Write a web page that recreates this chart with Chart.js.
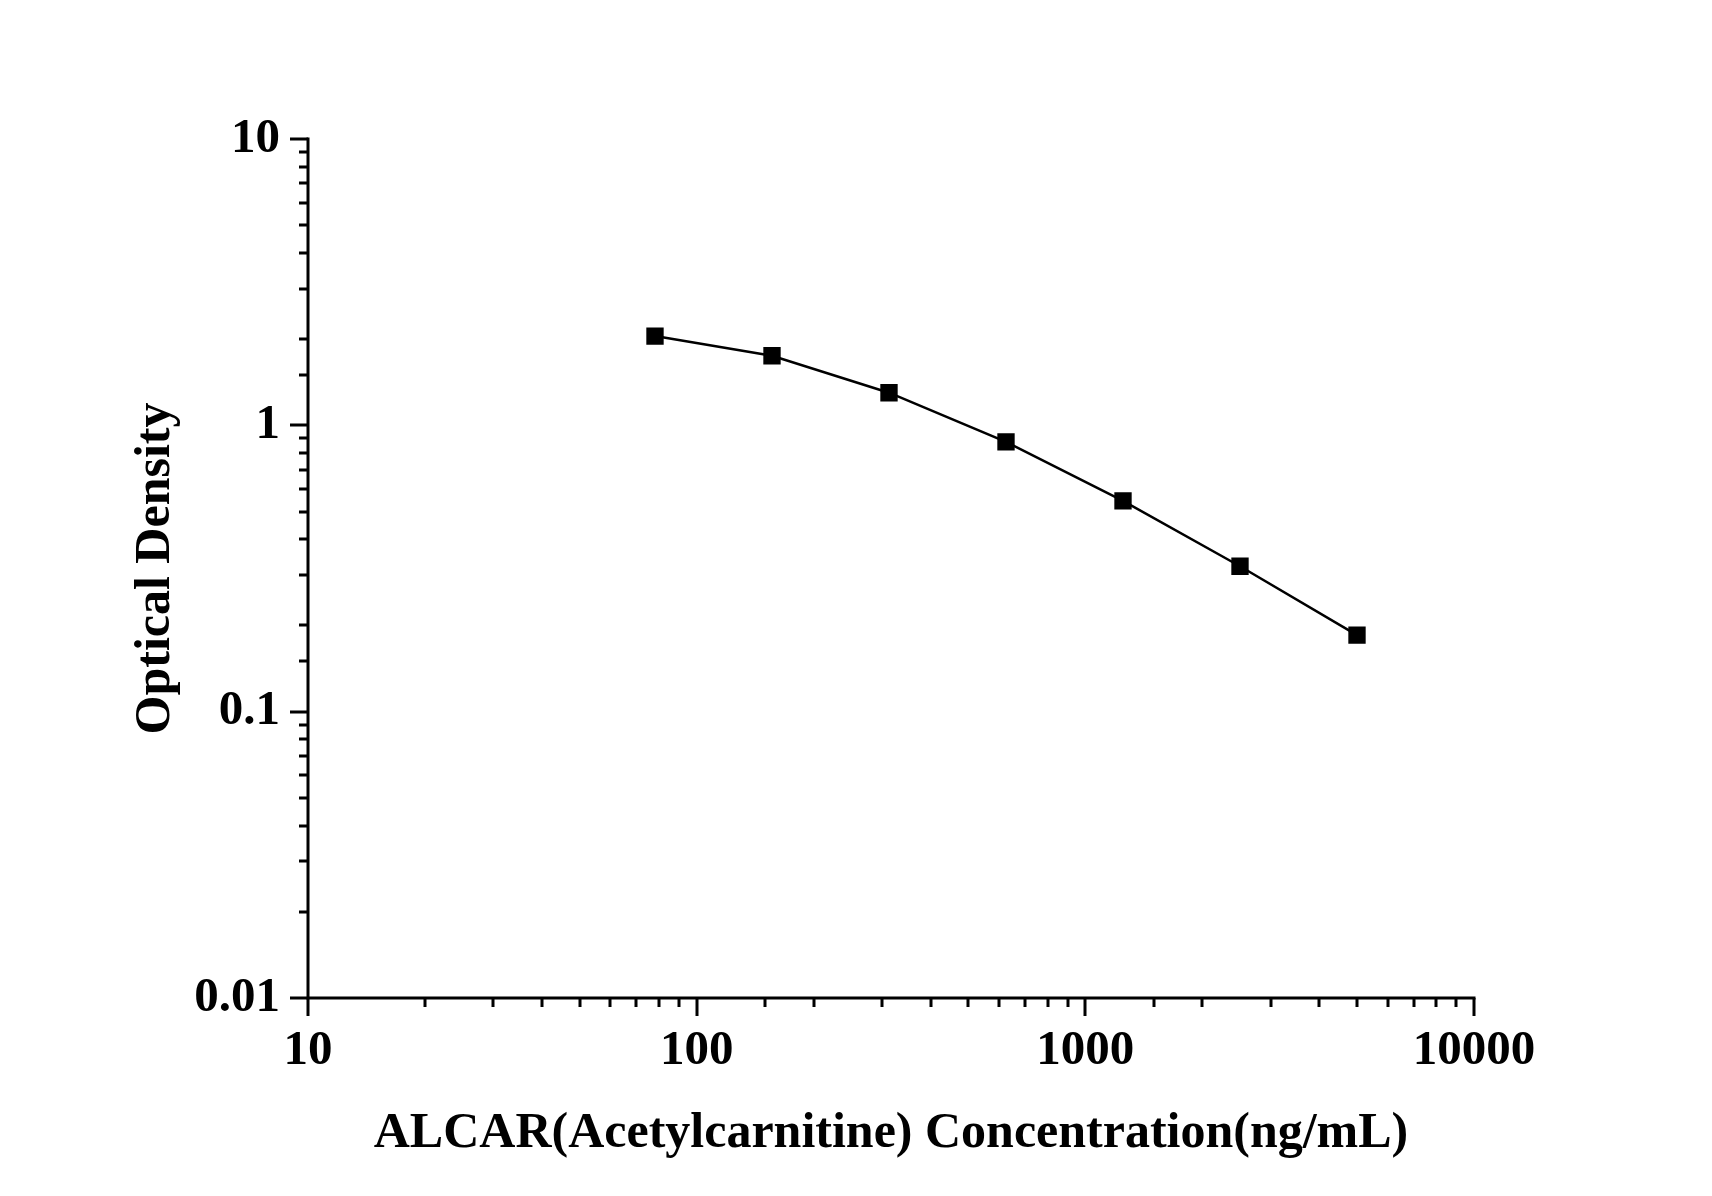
<!DOCTYPE html>
<html>
<head>
<meta charset="utf-8">
<script src="https://cdn.jsdelivr.net/npm/chart.js@4/dist/chart.umd.min.js"></script>
<style>
  body { margin: 0; background: #fff; }
  #wrap { width: 1712px; height: 1196px; }
</style>
</head>
<body>
<div id="wrap"><canvas id="odChart"></canvas></div>
<script>
// Standard curve data
const concentrations = [78.125, 156.25, 312.5, 625, 1250, 2500, 5000];   // ng/mL
const odValues = [2.05, 1.75, 1.30, 0.875, 0.545, 0.322, 0.185];         // optical density
const xRange = [10, 10000];
const yRange = [0.01, 10];
const xTitle = 'ALCAR(Acetylcarnitine) Concentration(ng/mL)';
const yTitle = 'Optical Density';

const serif = '"Liberation Serif", "Times New Roman", serif';

function isPow10(v) {
    const l = Math.log10(v);
    return Math.abs(l - Math.round(l)) < 1e-6;
}

// draws the axis lines and outward ticks (long on decades, short between)
const axisPainter = {
    id: 'axisPainter',
    afterDraw(chart) {
        const c = chart.ctx;
        const area = chart.chartArea;
        const xs = chart.scales.x, ys = chart.scales.y;
        c.save();
        c.strokeStyle = '#000';
        c.lineWidth = 3;
        c.lineCap = 'square';
        c.beginPath();
        c.moveTo(area.left, area.top);
        c.lineTo(area.left, area.bottom);
        c.lineTo(area.right, area.bottom);
        c.stroke();
        c.lineCap = 'butt';
        c.beginPath();
        xs.ticks.forEach(t => {
            const px = Math.round(xs.getPixelForValue(t.value));
            const len = isPow10(t.value) ? 18 : 9;
            c.moveTo(px, area.bottom);
            c.lineTo(px, area.bottom + len);
        });
        ys.ticks.forEach(t => {
            const py = Math.round(ys.getPixelForValue(t.value));
            const len = isPow10(t.value) ? 18 : 9;
            c.moveTo(area.left, py);
            c.lineTo(area.left - len, py);
        });
        c.stroke();
        c.restore();
    }
};

const ctx = document.getElementById('odChart').getContext('2d');
new Chart(ctx, {
    type: 'line',
    data: {
        datasets: [{
            data: concentrations.map((x, i) => ({ x: x, y: odValues[i] })),
            borderColor: '#000',
            backgroundColor: '#000',
            borderWidth: 2.5,
            pointStyle: 'rect',
            pointRadius: 10.5,
            pointHoverRadius: 10.5,
            tension: 0,
            fill: false
        }]
    },
    options: {
        responsive: true,
        maintainAspectRatio: false,
        animation: false,
        layout: { padding: { top: 139, right: 238, left: 0, bottom: 0 } },
        plugins: {
            legend: { display: false },
            tooltip: { enabled: false }
        },
        scales: {
            x: {
                type: 'logarithmic',
                min: xRange[0],
                max: xRange[1],
                afterFit: s => { s.height = 198; },
                grid: { display: true, drawOnChartArea: false, color: 'rgba(0,0,0,0)', tickLength: 18 },
                border: { display: false },
                ticks: {
                    autoSkip: false,
                    maxRotation: 0,
                    padding: 6,
                    color: '#000',
                    font: { family: serif, size: 49, weight: 'bold' },
                    callback: v => isPow10(v) ? String(Math.round(v)) : ''
                },
                title: {
                    display: true,
                    text: xTitle,
                    color: '#000',
                    font: { family: serif, size: 50, weight: 'bold' },
                    padding: { top: 0, bottom: 32 }
                }
            },
            y: {
                type: 'logarithmic',
                min: yRange[0],
                max: yRange[1],
                afterFit: s => { s.width = 308; },
                grid: { display: true, drawOnChartArea: false, color: 'rgba(0,0,0,0)', tickLength: 18 },
                border: { display: false },
                ticks: {
                    autoSkip: false,
                    padding: 10,
                    color: '#000',
                    font: { family: serif, size: 49, weight: 'bold' },
                    callback: v => isPow10(v) ? String(+v.toPrecision(1)) : ''
                },
                title: {
                    display: true,
                    text: yTitle,
                    color: '#000',
                    font: { family: serif, size: 50, weight: 'bold' },
                    padding: { top: 126, bottom: 0 }
                }
            }
        }
    },
    plugins: [axisPainter]
});
</script>
</body>
</html>
